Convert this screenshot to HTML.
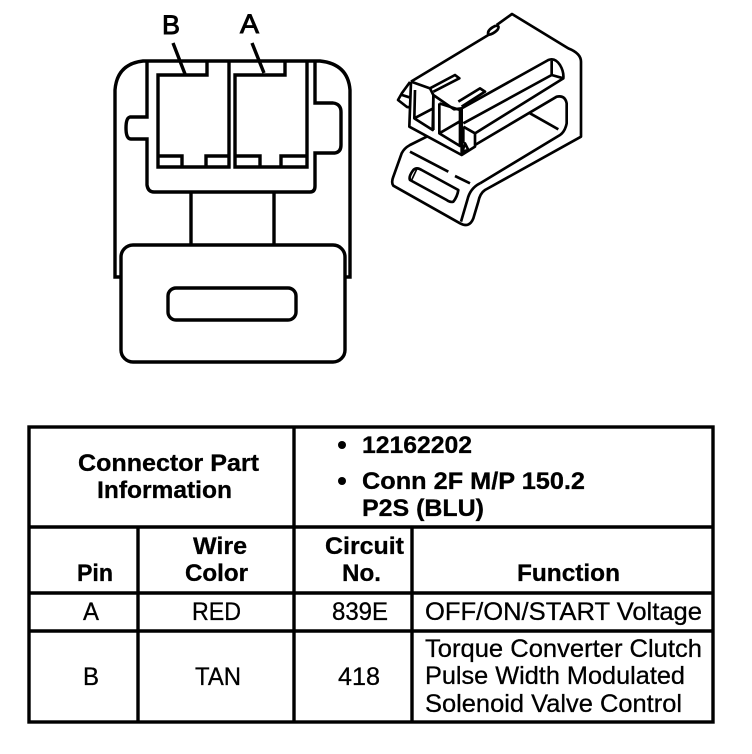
<!DOCTYPE html>
<html><head><meta charset="utf-8"><style>
html,body{margin:0;padding:0;background:#fff}
svg{display:block}
text{font-family:"Liberation Sans",sans-serif;fill:#000;stroke:#000;stroke-width:.35}
.b{font-weight:bold;font-size:24px;stroke-width:.3}
.r{font-size:25px;stroke-width:.3}
</style></head><body>
<svg width="752" height="754" viewBox="0 0 752 754" xmlns="http://www.w3.org/2000/svg">
<rect width="752" height="754" fill="#fff"/>
<g fill="none" stroke="#000" stroke-width="3.4">
<path d="M121 277H115V90Q117 64 143 61H320Q348 64 350 90V277H345"/>
<path d="M147 61V117H130Q126 118 126 128Q126 139 131 139H147V185Q148 192 154 192H310Q315 192 315 186V153H335Q341 152 341 145V112Q341 104 333 103H315V61"/>
<path d="M207 61V75H158V167H229V61"/>
<path d="M158 156H182V167M206 167V156H229"/>
<path d="M285 61V75H235V167H307V61"/>
<path d="M235 156H260V167M281 167V156H307"/>
<path d="M191 192V245M274 192V245"/>
<rect x="121" y="245" width="224" height="117" rx="12"/>
<rect x="168" y="288" width="128" height="32" rx="8"/>
<path d="M173 43L185 74M252 43L264 73"/>
</g>
<g transform="translate(380 20) scale(.33333)" fill="none" stroke="#000" stroke-width="8" stroke-linejoin="round">
<path d="M93 185L325 45M325 45Q320 30 345 18Q362 15 352 30Q340 42 325 45M350 15L396 -18L565 85Q603 100 603 125V350L315 510Q300 520 295 545L280 595Q268 625 240 610L40 497Q33 488 40 470L65 400Q72 385 90 375L140 350"/>
<path d="M300 490Q270 505 262 540L243 605"/>
<path d="M300 490L540 345Q555 335 560 310V250Q555 225 530 230L285 375"/>
<path d="M450 280L535 328"/>
<path d="M90 395L205 455M225 468L270 490"/>
<path d="M100 450Q110 440 125 450L235 510Q232 530 220 545Q210 548 200 540L90 480Q85 470 100 450Z"/>
<path d="M110 448L95 480" stroke-width="5"/>
<path d="M93 185L88 320L245 405L285 380V340L250 320"/>
<path d="M105 210L103 295L158 330L160 230M103 295L160 265"/>
<path d="M178 250V340L240 378V270L178 250M178 340L238 305"/>
<path d="M93 185L150 205L160 225L222 268L245 265V405"/>
<path d="M160 225V330"/>
<path d="M150 205L225 165L238 175L160 215"/>
<path d="M235 245L300 205L315 215L245 260"/>
<path d="M245 265L505 120Q525 112 540 135Q552 155 550 175L285 340"/>
<path d="M515 122V165L550 175M515 165L250 310"/>
<path d="M250 320V370M255 370L247 395L265 390Z"/>
<path d="M90 186L66 219L54 240L81 261L90 262M66 225L88 232"/>
</g>
<text x="162" y="34" font-size="27" textLength="18" lengthAdjust="spacingAndGlyphs" style="stroke-width:.9">B</text>
<text x="240" y="33" font-size="27" textLength="19" lengthAdjust="spacingAndGlyphs" style="stroke-width:.9">A</text>
<g fill="none" stroke="#000" stroke-width="3.4">
<rect x="29" y="427" width="684" height="295"/>
<path d="M29 527H713M29 593H713M29 631H713M294 427V722M138 527V722M412 527V722"/>
</g>
<circle cx="342" cy="445" r="4"/><circle cx="342" cy="481" r="4"/>
<text class="b" x="78" y="471" textLength="181" lengthAdjust="spacingAndGlyphs">Connector Part</text>
<text class="b" x="97" y="498" textLength="135" lengthAdjust="spacingAndGlyphs">Information</text>
<text class="b" x="362" y="453" textLength="110" lengthAdjust="spacingAndGlyphs">12162202</text>
<text class="b" x="362" y="489" textLength="223" lengthAdjust="spacingAndGlyphs">Conn 2F M/P 150.2</text>
<text class="b" x="362" y="516" textLength="122" lengthAdjust="spacingAndGlyphs">P2S (BLU)</text>
<text class="b" x="77" y="581" textLength="36" lengthAdjust="spacingAndGlyphs">Pin</text>
<text class="b" x="193" y="554" textLength="54" lengthAdjust="spacingAndGlyphs">Wire</text>
<text class="b" x="185" y="581" textLength="63" lengthAdjust="spacingAndGlyphs">Color</text>
<text class="b" x="325" y="554" textLength="79" lengthAdjust="spacingAndGlyphs">Circuit</text>
<text class="b" x="342" y="581" textLength="39" lengthAdjust="spacingAndGlyphs">No.</text>
<text class="b" x="517" y="581" textLength="103" lengthAdjust="spacingAndGlyphs">Function</text>
<text class="r" x="83" y="620" textLength="16" lengthAdjust="spacingAndGlyphs">A</text>
<text class="r" x="192" y="620" textLength="49" lengthAdjust="spacingAndGlyphs">RED</text>
<text class="r" x="332" y="620" textLength="56" lengthAdjust="spacingAndGlyphs">839E</text>
<text class="r" x="425" y="620" textLength="277" lengthAdjust="spacingAndGlyphs">OFF/ON/START Voltage</text>
<text class="r" x="83" y="685" textLength="16" lengthAdjust="spacingAndGlyphs">B</text>
<text class="r" x="195" y="685" textLength="46" lengthAdjust="spacingAndGlyphs">TAN</text>
<text class="r" x="338" y="685" textLength="42" lengthAdjust="spacingAndGlyphs">418</text>
<text class="r" x="425" y="657" textLength="277" lengthAdjust="spacingAndGlyphs">Torque Converter Clutch</text>
<text class="r" x="425" y="684" textLength="260" lengthAdjust="spacingAndGlyphs">Pulse Width Modulated</text>
<text class="r" x="425" y="712" textLength="257" lengthAdjust="spacingAndGlyphs">Solenoid Valve Control</text>
</svg>
</body></html>
